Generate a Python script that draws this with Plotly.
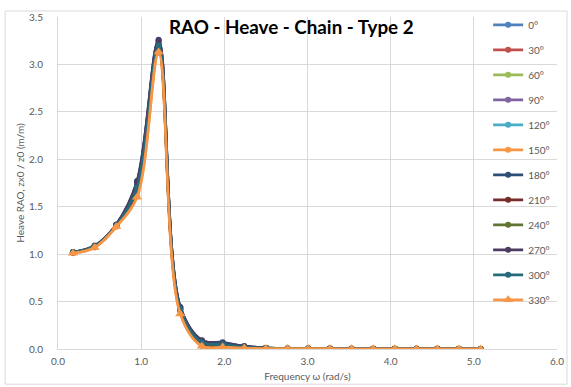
import plotly.graph_objects as go

freq = [0.18, 0.44, 0.70, 0.95, 1.21, 1.47, 1.73, 1.98, 2.24, 2.50,
        2.76, 3.01, 3.27, 3.53, 3.79, 4.05, 4.31, 4.56, 4.82, 5.08]

headings = ["0°", "30°", "60°", "90°", "120°", "150°",
            "180°", "210°", "240°", "270°", "300°", "330°"]

rao_0 = [1.02, 1.08, 1.30, 1.74, 3.24, 0.44, 0.08, 0.06, 0.03, 0.010, 0.006, 0.005, 0.004, 0.003, 0.003, 0.002, 0.002, 0.002, 0.001, 0.001]
rao_30 = [1.02, 1.08, 1.30, 1.66, 3.18, 0.41, 0.06, 0.04, 0.02, 0.010, 0.005, 0.004, 0.003, 0.003, 0.002, 0.002, 0.002, 0.001, 0.001, 0.001]
rao_60 = [1.02, 1.08, 1.30, 1.70, 3.21, 0.42, 0.07, 0.05, 0.02, 0.010, 0.005, 0.004, 0.003, 0.003, 0.002, 0.002, 0.002, 0.001, 0.001, 0.001]
rao_90 = [1.02, 1.08, 1.31, 1.75, 3.25, 0.44, 0.09, 0.06, 0.03, 0.010, 0.006, 0.005, 0.004, 0.003, 0.003, 0.002, 0.002, 0.002, 0.001, 0.001]
rao_120 = [1.02, 1.08, 1.30, 1.70, 3.20, 0.42, 0.07, 0.05, 0.02, 0.010, 0.005, 0.004, 0.003, 0.003, 0.002, 0.002, 0.002, 0.001, 0.001, 0.001]
rao_150 = [1.01, 1.07, 1.29, 1.61, 3.12, 0.38, 0.03, 0.02, 0.01, 0.005, 0.004, 0.003, 0.003, 0.002, 0.002, 0.002, 0.001, 0.001, 0.001, 0.001]
rao_180 = [1.02, 1.09, 1.31, 1.77, 3.26, 0.44, 0.09, 0.07, 0.03, 0.010, 0.006, 0.005, 0.004, 0.003, 0.003, 0.002, 0.002, 0.002, 0.001, 0.001]
rao_210 = [1.02, 1.08, 1.30, 1.66, 3.17, 0.41, 0.06, 0.04, 0.02, 0.010, 0.005, 0.004, 0.003, 0.003, 0.002, 0.002, 0.002, 0.001, 0.001, 0.001]
rao_240 = [1.02, 1.08, 1.30, 1.70, 3.21, 0.42, 0.07, 0.05, 0.02, 0.010, 0.005, 0.004, 0.003, 0.003, 0.002, 0.002, 0.002, 0.001, 0.001, 0.001]
rao_270 = [1.02, 1.08, 1.31, 1.76, 3.25, 0.44, 0.09, 0.06, 0.03, 0.010, 0.006, 0.005, 0.004, 0.003, 0.003, 0.002, 0.002, 0.002, 0.001, 0.001]
rao_300 = [1.02, 1.08, 1.30, 1.70, 3.20, 0.42, 0.07, 0.05, 0.02, 0.010, 0.005, 0.004, 0.003, 0.003, 0.002, 0.002, 0.002, 0.001, 0.001, 0.001]
rao_330 = [1.01, 1.07, 1.29, 1.60, 3.13, 0.37, 0.03, 0.02, 0.01, 0.005, 0.004, 0.003, 0.003, 0.002, 0.002, 0.002, 0.001, 0.001, 0.001, 0.001]

series = [rao_0, rao_30, rao_60, rao_90, rao_120, rao_150,
          rao_180, rao_210, rao_240, rao_270, rao_300, rao_330]

colors = ["#4F81BD", "#C0504D", "#9BBB59", "#8064A2", "#4BACC6", "#F79646",
          "#2C4D75", "#772C2A", "#5F7530", "#4D3B62", "#276A7C", "#F79646"]

FONT = "Lato, 'Open Sans', sans-serif"

fig = go.Figure()
for name, ys, c in zip(headings, series, colors):
    sym = "triangle-up" if name == "330°" else "circle"
    msize = 9 if name == "330°" else 6
    fig.add_trace(go.Scatter(
        x=freq, y=ys, name=name, legendgroup=name,
        mode="lines+markers",
        line=dict(color=c, width=2.75, shape="spline"),
        marker=dict(color=c, size=msize, symbol=sym),
    ))

fig.update_layout(
    width=571, height=387,
    margin=dict(l=58, r=14, t=10, b=38),
    paper_bgcolor="white", plot_bgcolor="white",
    font=dict(family=FONT, size=10, color="#595959"),
    showlegend=True,
    legend=dict(x=0.862, y=1.02, xanchor="left", yanchor="top",
                bgcolor="rgba(0,0,0,0)", font=dict(size=10, color="#595959"),
                tracegroupgap=6, itemwidth=30, maxheight=400),
    annotations=[dict(text="<b>RAO - Heave - Chain - Type 2</b>",
                      xref="paper", yref="paper", x=0.467, y=0.97,
                      xanchor="center", yanchor="middle", showarrow=False,
                      font=dict(family=FONT, size=18.8, color="black"))],
    shapes=[dict(type="rect", xref="paper", yref="paper",
                 x0=-0.106, x1=1.02, y0=-0.106, y1=1.018,
                 line=dict(color="#D9D9D9", width=1))],
)

fig.update_xaxes(range=[0, 6], dtick=1, tickformat=".1f", automargin=False,
                 showgrid=True, gridcolor="#D9D9D9", gridwidth=1,
                 showline=True, linecolor="#D9D9D9", zeroline=False,
                 ticks="", ticklabelstandoff=3,
                 tickfont=dict(size=10, color="#595959"),
                 title=dict(text="Frequency ω (rad/s)", standoff=6,
                            font=dict(size=10, color="#595959")))
fig.update_yaxes(range=[0, 3.5], dtick=0.5, tickformat=".1f", automargin=False,
                 showgrid=True, gridcolor="#D9D9D9", gridwidth=1,
                 showline=True, linecolor="#D9D9D9", zeroline=False,
                 ticks="", ticklabelstandoff=12,
                 tickfont=dict(size=10, color="#595959"),
                 title=dict(text="Heave RAO, zx0 / z0 (m/m)", standoff=2,
                            font=dict(size=10, color="#595959")))

fig.write_html("out.html", config={"displayModeBar": False},
               post_script="document.body.style.margin='0';")
